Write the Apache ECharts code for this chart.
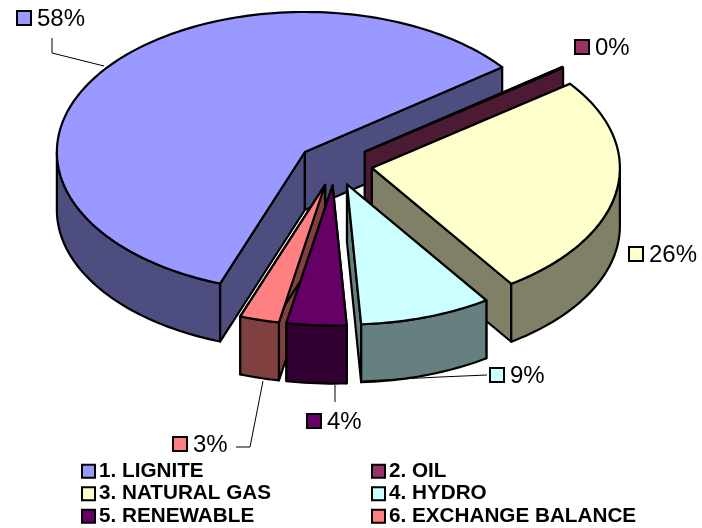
<!DOCTYPE html>
<html>
<head>
<meta charset="utf-8">
<title>Energy mix</title>
<style>
  html, body { margin: 0; padding: 0; background: #fff; }
  #chart { width: 702px; height: 528px; }
</style>
<script src="https://cdn.jsdelivr.net/npm/echarts@6/dist/echarts.min.js"></script>
</head>
<body>
<div id="chart"></div>
<script>
  // data, labels are these values rounded
  const categories = ['1. LIGNITE', '2. OIL', '3. NATURAL GAS', '4. HYDRO', '5. RENEWABLE', '6. EXCHANGE BALANCE']
  const shares = [58.49, 0.1, 25.5, 8.5, 3.85, 2.55]
  const topColors = ['#9999ff', '#993366', '#ffffcc', '#ccffff', '#660066', '#ff8080']
  const sideColors = ['#4d4d80', '#4d1a33', '#808066', '#668080', '#330033', '#804040']

  // pie geometry
  const centerX = 335
  const centerY = 164.5
  const radiusX = 248
  const radiusY = 140
  const depth = 58
  const explode = 37.4
  const startAngle = 250 // degrees, counted anti-clockwise from 3 o'clock, slices run clockwise
  const edgeWidth = 2.2

  // value label boxes and their leader lines
  const labelBoxes = [
    { x: 17, y: 11, line: [[52, 38], [52, 53], [104, 66]] },
    { x: 575, y: 40, line: null },
    { x: 629, y: 247, line: null },
    { x: 490, y: 368, line: [[361, 381], [440, 377], [487, 375]] },
    { x: 307, y: 414, line: [[335, 385], [335, 402]] },
    { x: 173, y: 437, line: [[236, 447], [250, 447], [263, 381]] }
  ]

  const total = shares.reduce((a, b) => a + b, 0)
  const rad = d => d * Math.PI / 180

  function sliceRange (index) {
    let from = startAngle
    for (let i = 0; i < index; i++) {
      from -= shares[i] / total * 360
    }
    return [from, from - shares[index] / total * 360]
  }

  function arcPoints (cx, cy, hi, lo, dy) {
    const pts = []
    const steps = Math.max(2, Math.ceil((hi - lo) / 1.5))
    for (let i = 0; i <= steps; i++) {
      const t = rad(hi - (hi - lo) * i / steps)
      pts.push([cx + radiusX * Math.cos(t), cy - radiusY * Math.sin(t) + dy])
    }
    return pts
  }

  function renderSlice (index) {
    const [hi, lo] = sliceRange(index)
    const mid = rad((hi + lo) / 2)
    const cx = centerX + explode * Math.cos(mid)
    const cy = centerY - explode * (radiusY / radiusX) * Math.sin(mid)
    const edge = { stroke: '#000', lineWidth: edgeWidth, lineJoin: 'round' }
    const children = []

    const poly = (points, fill) => children.push({
      type: 'polygon',
      shape: { points: points },
      style: Object.assign({ fill: fill }, edge)
    })

    // the two cut faces
    ;[hi, lo].forEach(a => {
      const p = [cx + radiusX * Math.cos(rad(a)), cy - radiusY * Math.sin(rad(a))]
      poly([[cx, cy], p, [p[0], p[1] + depth], [cx, cy + depth]], sideColors[index])
    })

    // outer wall, only the part turned to the viewer
    ;[[360, 180], [0, -180]].forEach(w => {
      const a = Math.min(hi, w[0])
      const b = Math.max(lo, w[1])
      if (a > b) {
        const upper = arcPoints(cx, cy, a, b, 0)
        const lower = arcPoints(cx, cy, a, b, depth).reverse()
        poly(upper.concat(lower), sideColors[index])
      }
    })

    // top face
    poly([[cx, cy]].concat(arcPoints(cx, cy, hi, lo, 0)), topColors[index])

    // value label
    const box = labelBoxes[index]
    if (box.line) {
      children.push({
        type: 'polyline',
        shape: { points: box.line },
        style: { stroke: '#000', lineWidth: 1, fill: null }
      })
    }
    children.push({
      type: 'rect',
      shape: { x: box.x, y: box.y, width: 14, height: 14 },
      style: { fill: topColors[index], stroke: '#000', lineWidth: 2 }
    })
    children.push({
      type: 'text',
      style: {
        text: Math.round(shares[index]) + '%',
        x: box.x + 20,
        y: box.y + 8,
        verticalAlign: 'middle',
        fill: '#000',
        font: '24px "Liberation Sans"'
      }
    })
    return { type: 'group', children: children }
  }

  const legendBase = {
    orient: 'vertical',
    top: 460,
    padding: 0,
    icon: 'rect',
    itemWidth: 13,
    itemHeight: 13,
    itemGap: 0,
    selectedMode: false,
    itemStyle: { borderColor: '#000', borderWidth: 2 },
    textStyle: {
      color: '#000',
      fontFamily: 'Liberation Sans',
      fontWeight: 'bold',
      fontSize: 20.7,
      lineHeight: 22.5,
      padding: [0, 0, 0, -1]
    }
  }

  const chart = echarts.init(document.getElementById('chart'), null, { renderer: 'canvas' })
  chart.setOption({
    animation: false,
    backgroundColor: '#fff',
    legend: [
      Object.assign({}, legendBase, { left: 81, data: [categories[0], categories[2], categories[4]] }),
      Object.assign({}, legendBase, { left: 371, data: [categories[1], categories[3], categories[5]] })
    ],
    // back to front, so the nearer slices cover the farther ones
    series: [0, 1, 2, 3, 5, 4].map(i => ({
      type: 'custom',
      name: categories[i],
      coordinateSystem: 'none',
      silent: true,
      itemStyle: { color: topColors[i] },
      data: [shares[i]],
      renderItem: () => renderSlice(i)
    }))
  })
</script>
</body>
</html>
